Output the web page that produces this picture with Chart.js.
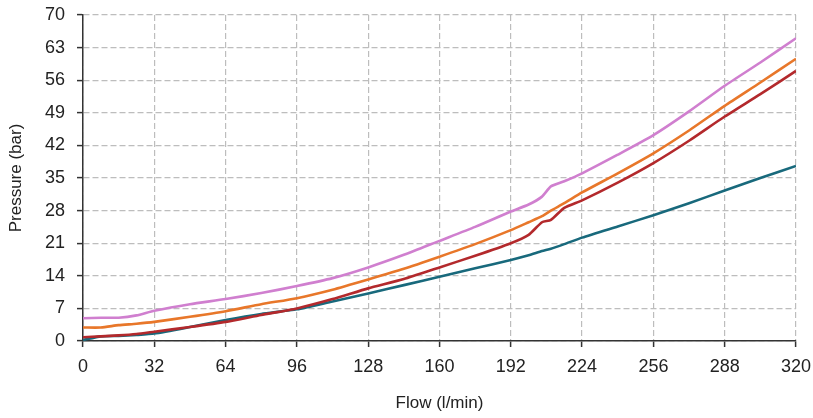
<!DOCTYPE html>
<html>
<head>
<meta charset="utf-8">
<script src="https://cdn.jsdelivr.net/npm/chart.js@4"></script>
<style>
  html, body { margin: 0; padding: 0; background: #fff; }
  #wrap { width: 813px; height: 418px; }
</style>
</head>
<body>
<div id="wrap"><canvas id="pressureChart"></canvas></div>
<script>
// Flow points (l/min) where the curves were read
var flow = [0, 8, 16, 24, 32, 48, 64, 80, 96, 112, 128, 144, 160, 176, 192, 200, 206, 210, 216, 224, 240, 256, 272, 288, 304, 320];

// Pressure (bar) for each curve
var pinkSeries   = [4.9, 5.0, 5.0, 5.5, 6.5, 7.9, 9.0, 10.3, 11.8, 13.5, 15.8, 18.5, 21.5, 24.5, 27.8, 29.3, 31.0, 33.2, 34.3, 36.0, 40.0, 44.2, 49.3, 54.8, 59.8, 65.0];
var orangeSeries = [2.9, 2.9, 3.4, 3.7, 4.1, 5.2, 6.4, 7.9, 9.2, 11.0, 13.2, 15.5, 18.1, 20.8, 23.8, 25.5, 26.8, 28.0, 29.6, 31.9, 36.0, 40.3, 45.2, 50.5, 55.5, 60.6];
var redSeries    = [0.8, 1.0, 1.2, 1.5, 2.0, 3.0, 4.1, 5.6, 7.0, 9.0, 11.3, 13.3, 15.8, 18.3, 21.0, 22.8, 25.5, 26.0, 28.6, 30.2, 34.0, 38.2, 43.0, 48.2, 53.0, 58.0];
var tealSeries   = [0.2, 1.0, 1.1, 1.3, 1.6, 3.0, 4.5, 5.8, 6.8, 8.5, 10.2, 12.0, 13.8, 15.6, 17.4, 18.4, 19.3, 19.8, 20.8, 22.2, 24.6, 27.0, 29.6, 32.3, 35.0, 37.6];

var xTicks = [0, 32, 64, 96, 128, 160, 192, 224, 256, 288, 320];
var yTicks = [0, 7, 14, 21, 28, 35, 42, 49, 56, 63, 70];

function toPoints(values) {
  return values.map(function(v, i) { return { x: flow[i], y: v }; });
}

function makeLine(values, color) {
  return {
    data: toPoints(values),
    borderColor: color,
    backgroundColor: color,
    borderWidth: 2.6,
    pointRadius: 0,
    tension: 0.2,
    fill: false
  };
}

var tickFont = { family: "'Liberation Sans', Arial, sans-serif", size: 18 };
var titleFont = { family: "'Liberation Sans', Arial, sans-serif", size: 17 };

var gridStyle = {
  color: "#bdbdbd",
  lineWidth: 1.2,
  borderDash: [6, 4],
  tickColor: "#333",
  tickLength: 6,
  tickWidth: 1.5
};

var ctx = document.getElementById("pressureChart").getContext("2d");
new Chart(ctx, {
  type: "line",
  data: {
    datasets: [
      makeLine(pinkSeries, "#d07fcf"),
      makeLine(orangeSeries, "#e8772a"),
      makeLine(redSeries, "#b3292c"),
      makeLine(tealSeries, "#18697c")
    ]
  },
  options: {
    responsive: true,
    maintainAspectRatio: false,
    animation: false,
    layout: { padding: { top: 15, right: 17, left: 0, bottom: 0 } },
    plugins: {
      legend: { display: false },
      tooltip: { enabled: false }
    },
    scales: {
      x: {
        type: "linear",
        min: 0,
        max: 320,
        afterBuildTicks: function(axis) {
          axis.ticks = xTicks.map(function(v) { return { value: v }; });
        },
        afterFit: function(axis) {
          axis.height = 77;
          axis.paddingLeft = 0;
          axis.paddingRight = 0;
        },
        grid: gridStyle,
        border: { color: "#333", width: 1.5, dash: [6, 3] },
        ticks: { color: "#222", font: tickFont, padding: 9, maxRotation: 0 },
        title: { display: true, text: "Flow (l/min)", color: "#222", font: titleFont, padding: { top: 4 } }
      },
      y: {
        min: 0,
        max: 70,
        afterBuildTicks: function(axis) {
          axis.ticks = yTicks.map(function(v) { return { value: v }; });
        },
        afterFit: function(axis) {
          axis.width = 83;
          axis.paddingTop = 0;
          axis.paddingBottom = 0;
        },
        grid: gridStyle,
        border: { color: "#333", width: 1.5, dash: [6, 3] },
        ticks: { color: "#222", font: tickFont, padding: 12 },
        title: { display: true, text: "Pressure (bar)", color: "#222", font: titleFont, padding: { top: 6, bottom: 4 } }
      }
    }
  }
});
</script>
</body>
</html>
